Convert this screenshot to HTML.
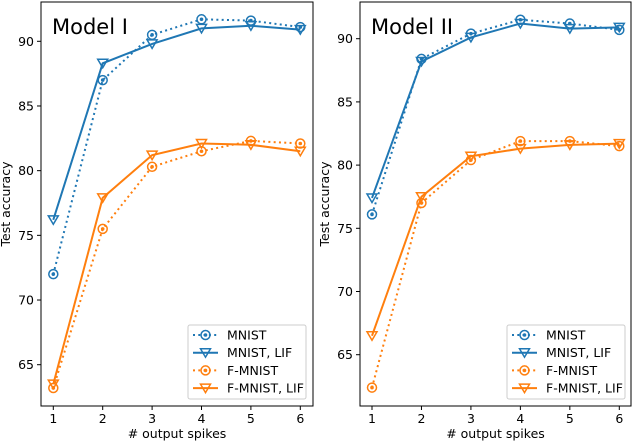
<!DOCTYPE html>
<html><head><meta charset="utf-8"><style>
body{margin:0;background:#fff}
svg{display:block;font-family:"DejaVu Sans","Liberation Sans",sans-serif}
</style></head><body>
<svg id="c" width="634" height="444" viewBox="0 0 634 444"></svg>
<script>
const xCats=[1,2,3,4,5,6];
const yTicks=[65,70,75,80,85,90];
const seriesNames=["MNIST","MNIST, LIF","F-MNIST","F-MNIST, LIF"];
const m1Mnist=[72.0,87.0,90.5,91.7,91.6,91.1];
const m1MnistLif=[76.2,88.3,89.8,91.0,91.2,90.9];
const m1F=[63.2,75.5,80.3,81.5,82.3,82.1];
const m1FLif=[63.5,77.9,81.2,82.1,82.0,81.5];
const m2Mnist=[76.1,88.4,90.4,91.5,91.2,90.7];
const m2MnistLif=[77.4,88.2,90.1,91.2,90.8,90.9];
const m2F=[62.4,77.0,80.4,81.9,81.9,81.5];
const m2FLif=[66.5,77.5,80.7,81.3,81.6,81.7];
const NS="http://www.w3.org/2000/svg";
const svg=document.getElementById('c');
function mk(t,a,p){const e=document.createElementNS(NS,t);for(const k in a)e.setAttribute(k,a[k]);(p||svg).appendChild(e);return e;}
const panels=[
 {title:"Model I",L:41,R:313,T:2,B:406,x1:53.3,x6:300.3,y90:41.3,y65:364.7,data:[m1Mnist,m1MnistLif,m1F,m1FLif],leg:[188,325,118,74],name:"model-1"},
 {title:"Model II",L:360,R:631,T:2,B:406,x1:372,x6:619.3,y90:38.7,y65:354.7,data:[m2Mnist,m2MnistLif,m2F,m2FLif],leg:[507,325,118,74],name:"model-2"}
];
const cols=["#1f77b4","#1f77b4","#ff7f0e","#ff7f0e"];
const dash=[true,false,true,false];
function circ(g,x,y,c){mk('circle',{cx:x,cy:y,r:4.5,fill:'none',stroke:c,'stroke-width':1.5},g);mk('circle',{cx:x,cy:y,r:1.8,fill:c},g);}
function tri(g,x,y,c){mk('path',{d:`M${x-5},${y-4} L${x+5},${y-4} L${x},${y+4.5} Z`,fill:'none',stroke:c,'stroke-width':1.5},g);}
panels.forEach(p=>{
 const g=mk('g',{});
 
 
 const X=v=>p.x1+(v-1)*(p.x6-p.x1)/5;
 const Y=v=>p.y65+(v-65)*(p.y90-p.y65)/25;
 mk('rect',{x:p.L,y:p.T,width:p.R-p.L,height:p.B-p.T,fill:'#fff',stroke:'#000','stroke-width':1},g);
 xCats.forEach(c=>{mk('line',{x1:X(c),x2:X(c),y1:p.B,y2:p.B+4,stroke:'#000'},g);
  const t=mk('text',{x:X(c),y:p.B+17,'font-size':12.5,'text-anchor':'middle'},g);t.textContent=c;
  
  });
 yTicks.forEach(v=>{mk('line',{x1:p.L-4,x2:p.L,y1:Y(v),y2:Y(v),stroke:'#000'},g);
  const t=mk('text',{x:p.L-7,y:Y(v)+4.5,'font-size':12.5,'text-anchor':'end'},g);t.textContent=v;
  
  });
 const xt=mk('text',{x:(p.L+p.R)/2,y:438,'font-size':12.5,'text-anchor':'middle'},g);xt.textContent="# output spikes";
 
 
 const yt=mk('text',{x:0,y:0,'font-size':12.5,'text-anchor':'middle',transform:`translate(${p.L-31},${(p.T+p.B)/2}) rotate(-90)`},g);yt.textContent="Test accuracy";
 
 
 const tt=mk('text',{x:p.L+11,y:34,'font-size':21},g);tt.textContent=p.title;
 
 
 p.data.forEach((d,i)=>{
  const s=mk('g',{},g);
  
  
  mk('polyline',{points:d.map((v,j)=>X(xCats[j])+','+Y(v)).join(' '),fill:'none',stroke:cols[i],'stroke-width':2,'stroke-dasharray':dash[i]?'2,3.3':'none'},s);
  d.forEach((v,j)=>dash[i]?circ(s,X(xCats[j]),Y(v),cols[i]):tri(s,X(xCats[j]),Y(v),cols[i]));
 });
 const [lx,ly,lw,lh]=p.leg;
 const lg=mk('g',{},g);
 
 
 mk('rect',{x:lx,y:ly,width:lw,height:lh,rx:2,fill:'#fff',stroke:'#ccc','stroke-width':1},lg);
 seriesNames.forEach((n,i)=>{
  const yy=ly+10+i*17.7;
  mk('line',{x1:lx+5,x2:lx+30,y1:yy,y2:yy,stroke:cols[i],'stroke-width':2,'stroke-dasharray':dash[i]?'2,3.3':'none'},lg);
  dash[i]?circ(lg,lx+17.5,yy,cols[i]):tri(lg,lx+17.5,yy,cols[i]);
  const t=mk('text',{x:lx+39,y:yy+4.5,'font-size':12.5},lg);t.textContent=n;
  
  
 });
});
</script>
</body></html>
